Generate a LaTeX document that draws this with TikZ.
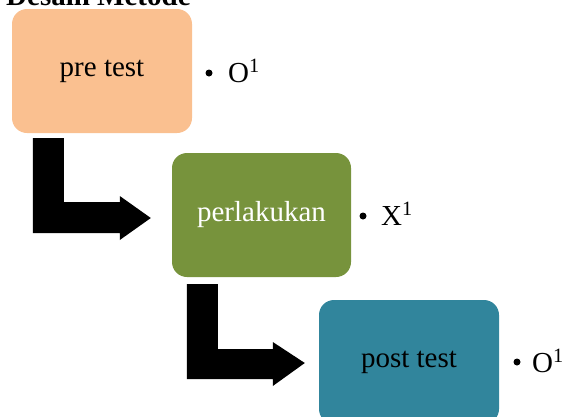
\documentclass[tikz,border=0pt]{standalone}
\usepackage{fontspec}
\usetikzlibrary{calc}
\setmainfont{Liberation Serif}
\definecolor{peach}{HTML}{FAC090}
\definecolor{olive}{HTML}{77933C}
\definecolor{teal}{HTML}{31859C}
\begin{document}
\begin{tikzpicture}[x=1pt,y=-1pt,
  box/.style={rounded corners=15pt,minimum width=180pt,minimum height=124pt,inner sep=0pt,
    font=\fontsize{29}{34}\selectfont},
  lbl/.style={inner sep=0pt,font=\fontsize{29}{34}\selectfont},
  dot/.style={circle,fill=black,inner sep=0pt,minimum size=7pt},
  bentarrow/.style={fill=black}]
\useasboundingbox (0,0) rectangle (568,416);
\clip (0,0) rectangle (568,416);
\node[lbl,anchor=base west,font=\bfseries\fontsize{29}{34}\selectfont] (title) at (6,5) {Desain Metode};
\node[box,fill=peach,text=black] (b1) at (102,71) {pre test};
\node[box,fill=olive,text=white,minimum width=179pt] (b2) at (261.5,215) {perlakukan};
\node[box,fill=teal,text=black] (b3) at (409,362) {post test};
% labels
\node[dot] (d1) at (209,73) {};
\node[lbl,anchor=base west] (l1) at (228,82) {O\textsuperscript{1}};
\node[dot] (d2) at (363,216) {};
\node[lbl,anchor=base west] (l2) at (381,225) {X\textsuperscript{1}};
\node[dot] (d3) at (517,362) {};
\node[lbl,anchor=base west] (l3) at (532,372) {O\textsuperscript{1}};
% bent arrows
\coordinate (s1) at ($(b1.south west)+(21,5)$);
\coordinate (t1) at ($(b2.west)+(-21,3)$);
\coordinate (s2) at ($(b2.south west)+(15,7)$);
\coordinate (t2) at ($(b3.west)+(-14,1)$);
\path[bentarrow] (s1) -- ++(31,0) |- ($(t1)+(-31,-16)$) -- ++(0,-6) -- (t1)
  -- ++(-31,22) -- ++(0,-7) -| (s1) -- cycle;
\path[bentarrow] (s2) -- ++(31,0) |- ($(t2)+(-32,-14)$) -- ++(0,-7) -- (t2)
  -- ++(-32,23) -- ++(0,-7) -| (s2) -- cycle;
\end{tikzpicture}
\end{document}
